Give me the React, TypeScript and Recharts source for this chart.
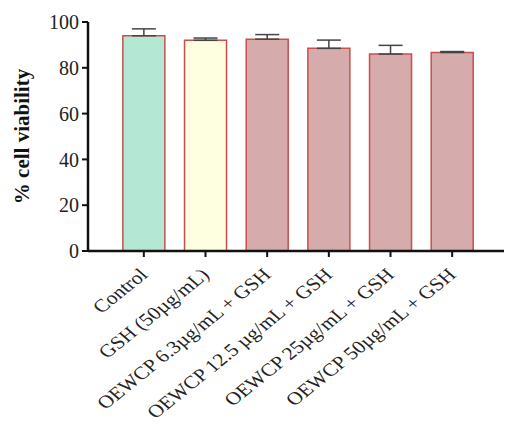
import { BarChart, Bar, XAxis, YAxis, Cell, ErrorBar } from "recharts";

// Groups along the x axis
const groups = [
  "Control",
  "GSH (50µg/mL)",
  "OEWCP 6.3µg/mL + GSH",
  "OEWCP 12.5 µg/mL + GSH",
  "OEWCP 25µg/mL + GSH",
  "OEWCP 50µg/mL + GSH",
];

// Mean % viability and the upper error (SD)
const viability = [94, 92, 92.5, 88.5, 86, 86.7];
const errorUp = [3, 1, 2, 3.6, 3.8, 0.4];

const barColors = ["#b4e8d5", "#fefee0", "#d5abab", "#d5abab", "#d5abab", "#d5abab"];
const yTicks = [0, 20, 40, 60, 80, 100];

const data = groups.map((name, i) => ({
  name,
  value: viability[i],
  err: [0, errorUp[i]],
}));

const FONT = "'Liberation Serif', 'Times New Roman', serif";

// the source figure is slightly stretched sideways, so the slanted labels are too
function SlantTick(props: any) {
  const { x, y, payload } = props;
  const ax = x + 5;
  const ay = y + 19;
  return (
    <text
      x={0}
      y={0}
      textAnchor="end"
      fontFamily={FONT}
      fontSize={18}
      fill="#222"
      transform={`translate(${ax}, ${ay}) scale(1.2, 1) rotate(-44)`}
    >
      {payload.value}
    </text>
  );
}

function YLabel(props: any) {
  const { viewBox } = props;
  const cx = 22;
  const cy = viewBox.y + viewBox.height / 2;
  return (
    <text
      x={cx}
      y={cy}
      textAnchor="middle"
      dominantBaseline="central"
      fontFamily={FONT}
      fontWeight="bold"
      fontSize={21}
      fill="#111"
      transform={`rotate(-90, ${cx}, ${cy})`}
    >
      % cell viability
    </text>
  );
}

export default function App() {
  return (
    <div style={{ position: "absolute", left: 0, top: 0, background: "#fff" }}>
      <BarChart
        width={506}
        height={427}
        data={data}
        margin={{ top: 22, right: 2, left: 0, bottom: 0 }}
        barCategoryGap="16%"
      >
        <XAxis
          dataKey="name"
          interval={0}
          height={176}
          padding={{ left: 25, right: 21 }}
          axisLine={{ stroke: "#111", strokeWidth: 2.5 }}
          tickLine={{ stroke: "#111", strokeWidth: 2 }}
          tickSize={6}
          tickMargin={0}
          tick={<SlantTick />}
        />
        <YAxis
          width={88}
          domain={[0, 100]}
          ticks={yTicks}
          interval={0}
          axisLine={{ stroke: "#111", strokeWidth: 2.5 }}
          tickLine={{ stroke: "#111", strokeWidth: 2 }}
          tickSize={6}
          tickMargin={3}
          tick={{ fontFamily: FONT, fontSize: 20, fill: "#222" }}
          label={<YLabel />}
        />
        <Bar dataKey="value" stroke="#c8504c" strokeWidth={1.5} isAnimationActive={false}>
          {data.map((d, i) => (
            <Cell key={d.name} fill={barColors[i]} />
          ))}
          <ErrorBar dataKey="err" direction="y" width={12} stroke="#444" strokeWidth={1.5} />
        </Bar>
      </BarChart>
    </div>
  );
}
